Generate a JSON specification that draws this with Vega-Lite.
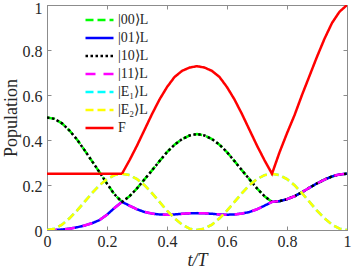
{
  "$schema": "https://vega.github.io/schema/vega-lite/v6.json",
  "width": 300,
  "height": 225,
  "autosize": {"type": "none"},
  "padding": {"left": 47, "top": 5, "right": 6, "bottom": 42},
  "background": "white",
  "config": {
    "view": {"stroke": "#8c8c8c", "strokeWidth": 1},
    "font": "Liberation Serif",
    "axis": {
      "labelFont": "Liberation Serif",
      "titleFont": "Liberation Serif",
      "labelFontSize": 16,
      "titleFontSize": 18,
      "labelColor": "#262626",
      "titleColor": "#262626",
      "titleFontWeight": "normal",
      "domainColor": "#8c8c8c",
      "tickColor": "#8c8c8c",
      "grid": false
    }
  },
  "data": {
    "values": [
      {"t": 0, "p00": 0.5, "p01": 0, "p10": 0.5, "p11": 0, "e1": 0, "e2": 0, "F": 0.25},
      {"t": 0.025, "p00": 0.494, "p01": 0, "p10": 0.494, "p11": 0, "e1": 0.006, "e2": 0.006, "F": 0.25},
      {"t": 0.05, "p00": 0.474, "p01": 0.002, "p10": 0.474, "p11": 0.002, "e1": 0.024, "e2": 0.024, "F": 0.25},
      {"t": 0.075, "p00": 0.442, "p01": 0.006, "p10": 0.442, "p11": 0.006, "e1": 0.052, "e2": 0.052, "F": 0.25},
      {"t": 0.1, "p00": 0.402, "p01": 0.012, "p10": 0.402, "p11": 0.012, "e1": 0.086, "e2": 0.086, "F": 0.25},
      {"t": 0.125, "p00": 0.355, "p01": 0.02, "p10": 0.355, "p11": 0.02, "e1": 0.125, "e2": 0.125, "F": 0.25},
      {"t": 0.15, "p00": 0.306, "p01": 0.03, "p10": 0.306, "p11": 0.03, "e1": 0.164, "e2": 0.164, "F": 0.25},
      {"t": 0.175, "p00": 0.257, "p01": 0.044, "p10": 0.257, "p11": 0.044, "e1": 0.199, "e2": 0.199, "F": 0.25},
      {"t": 0.2, "p00": 0.206, "p01": 0.068, "p10": 0.206, "p11": 0.068, "e1": 0.226, "e2": 0.226, "F": 0.25},
      {"t": 0.225, "p00": 0.158, "p01": 0.098, "p10": 0.158, "p11": 0.098, "e1": 0.244, "e2": 0.244, "F": 0.25},
      {"t": 0.25, "p00": 0.125, "p01": 0.125, "p10": 0.125, "p11": 0.125, "e1": 0.25, "e2": 0.25, "F": 0.25},
      {"t": 0.275, "p00": 0.15, "p01": 0.108, "p10": 0.15, "p11": 0.108, "e1": 0.244, "e2": 0.244, "F": 0.31},
      {"t": 0.3, "p00": 0.185, "p01": 0.092, "p10": 0.185, "p11": 0.092, "e1": 0.226, "e2": 0.226, "F": 0.375},
      {"t": 0.325, "p00": 0.225, "p01": 0.08, "p10": 0.225, "p11": 0.08, "e1": 0.199, "e2": 0.199, "F": 0.445},
      {"t": 0.35, "p00": 0.265, "p01": 0.073, "p10": 0.265, "p11": 0.073, "e1": 0.164, "e2": 0.164, "F": 0.515},
      {"t": 0.375, "p00": 0.306, "p01": 0.069, "p10": 0.306, "p11": 0.069, "e1": 0.125, "e2": 0.125, "F": 0.58},
      {"t": 0.4, "p00": 0.346, "p01": 0.068, "p10": 0.346, "p11": 0.068, "e1": 0.086, "e2": 0.086, "F": 0.635},
      {"t": 0.425, "p00": 0.379, "p01": 0.069, "p10": 0.379, "p11": 0.069, "e1": 0.052, "e2": 0.052, "F": 0.68},
      {"t": 0.45, "p00": 0.404, "p01": 0.072, "p10": 0.404, "p11": 0.072, "e1": 0.024, "e2": 0.024, "F": 0.707},
      {"t": 0.475, "p00": 0.42, "p01": 0.074, "p10": 0.42, "p11": 0.074, "e1": 0.006, "e2": 0.006, "F": 0.722},
      {"t": 0.5, "p00": 0.427, "p01": 0.075, "p10": 0.427, "p11": 0.075, "e1": 0, "e2": 0, "F": 0.728},
      {"t": 0.525, "p00": 0.42, "p01": 0.074, "p10": 0.42, "p11": 0.074, "e1": 0.006, "e2": 0.006, "F": 0.722},
      {"t": 0.55, "p00": 0.404, "p01": 0.072, "p10": 0.404, "p11": 0.072, "e1": 0.024, "e2": 0.024, "F": 0.707},
      {"t": 0.575, "p00": 0.379, "p01": 0.069, "p10": 0.379, "p11": 0.069, "e1": 0.052, "e2": 0.052, "F": 0.68},
      {"t": 0.6, "p00": 0.346, "p01": 0.068, "p10": 0.346, "p11": 0.068, "e1": 0.086, "e2": 0.086, "F": 0.635},
      {"t": 0.625, "p00": 0.306, "p01": 0.069, "p10": 0.306, "p11": 0.069, "e1": 0.125, "e2": 0.125, "F": 0.58},
      {"t": 0.65, "p00": 0.265, "p01": 0.073, "p10": 0.265, "p11": 0.073, "e1": 0.164, "e2": 0.164, "F": 0.515},
      {"t": 0.675, "p00": 0.225, "p01": 0.08, "p10": 0.225, "p11": 0.08, "e1": 0.199, "e2": 0.199, "F": 0.445},
      {"t": 0.7, "p00": 0.185, "p01": 0.092, "p10": 0.185, "p11": 0.092, "e1": 0.226, "e2": 0.226, "F": 0.375},
      {"t": 0.725, "p00": 0.15, "p01": 0.108, "p10": 0.15, "p11": 0.108, "e1": 0.244, "e2": 0.244, "F": 0.31},
      {"t": 0.75, "p00": 0.125, "p01": 0.125, "p10": 0.125, "p11": 0.125, "e1": 0.25, "e2": 0.25, "F": 0.25},
      {"t": 0.775, "p00": 0.128, "p01": 0.128, "p10": 0.128, "p11": 0.128, "e1": 0.244, "e2": 0.244, "F": 0.345},
      {"t": 0.8, "p00": 0.137, "p01": 0.137, "p10": 0.137, "p11": 0.137, "e1": 0.226, "e2": 0.226, "F": 0.43},
      {"t": 0.825, "p00": 0.15, "p01": 0.15, "p10": 0.15, "p11": 0.15, "e1": 0.199, "e2": 0.199, "F": 0.51},
      {"t": 0.85, "p00": 0.168, "p01": 0.168, "p10": 0.168, "p11": 0.168, "e1": 0.164, "e2": 0.164, "F": 0.6},
      {"t": 0.875, "p00": 0.188, "p01": 0.188, "p10": 0.188, "p11": 0.188, "e1": 0.125, "e2": 0.125, "F": 0.685},
      {"t": 0.9, "p00": 0.207, "p01": 0.207, "p10": 0.207, "p11": 0.207, "e1": 0.086, "e2": 0.086, "F": 0.77},
      {"t": 0.925, "p00": 0.224, "p01": 0.224, "p10": 0.224, "p11": 0.224, "e1": 0.052, "e2": 0.052, "F": 0.85},
      {"t": 0.95, "p00": 0.238, "p01": 0.238, "p10": 0.238, "p11": 0.238, "e1": 0.024, "e2": 0.024, "F": 0.92},
      {"t": 0.975, "p00": 0.247, "p01": 0.247, "p10": 0.247, "p11": 0.247, "e1": 0.006, "e2": 0.006, "F": 0.97},
      {"t": 1, "p00": 0.25, "p01": 0.25, "p10": 0.25, "p11": 0.25, "e1": 0, "e2": 0, "F": 1}
    ]
  },
  "transform": [
    {"fold": ["p00", "p01", "p10", "p11", "e1", "e2", "F"], "as": ["series", "value"]}
  ],
  "layer": [
    {
      "mark": {"type": "line", "strokeWidth": 2.5, "strokeCap": "butt", "clip": true},
      "encoding": {
        "x": {
          "field": "t", "type": "quantitative",
          "scale": {"domain": [0, 1], "nice": false, "zero": false},
          "axis": {
            "orient": "bottom", "values": [0, 0.2, 0.4, 0.6, 0.8, 1], "format": "~g",
            "title": "t/T", "titleFontStyle": "italic", "tickSize": -4, "labelPadding": 7,
            "titlePadding": 2, "labelFlush": false
          }
        },
        "y": {
          "field": "value", "type": "quantitative",
          "scale": {"domain": [0, 1], "nice": false},
          "axis": {
            "orient": "left", "values": [0, 0.2, 0.4, 0.6, 0.8, 1], "format": "~g",
            "title": "Population", "tickSize": -4, "labelPadding": 9, "titlePadding": 2,
            "labelOffset": {"condition": {"test": "datum.value == 1", "value": 3}, "value": 1}
          }
        },
        "color": {
          "field": "series", "type": "nominal",
          "scale": {
            "domain": ["p00", "p01", "p10", "p11", "e1", "e2", "F"],
            "range": ["#00ff00", "#0000ff", "#000000", "#ff00ff", "#00ffff", "#ffff00", "#ff0000"]
          },
          "legend": {
            "title": null, "orient": "none", "legendX": 37, "legendY": 7, "padding": 0,
            "symbolType": "stroke", "symbolSize": 784, "symbolStrokeWidth": 2.5,
            "clipHeight": 16, "rowPadding": 2, "labelOffset": 3,
            "labelFont": "Liberation Serif", "labelFontSize": 14, "labelColor": "#262626",
            "labelExpr": "datum.value == 'p00' ? '|00⟩L' : datum.value == 'p01' ? '|01⟩L' : datum.value == 'p10' ? '|10⟩L' : datum.value == 'p11' ? '|11⟩L' : datum.value == 'e1' ? '|E₁⟩L' : datum.value == 'e2' ? '|E₂⟩L' : 'F'"
          }
        },
        "strokeDash": {
          "field": "series", "type": "nominal",
          "scale": {
            "domain": ["p00", "p01", "p10", "p11", "e1", "e2", "F"],
            "range": [[8, 4], [1, 0], [2.5, 2.5], [10, 8], [8, 4], [8, 4], [1, 0]]
          },
          "legend": null
        }
      }
    },
    {
      "mark": {"type": "line", "opacity": 0},
      "encoding": {
        "x": {
          "field": "t", "type": "quantitative",
          "axis": {"orient": "top", "values": [0, 0.2, 0.4, 0.6, 0.8, 1], "labels": false, "title": null, "tickSize": -4}
        },
        "y": {
          "field": "value", "type": "quantitative",
          "axis": {"orient": "right", "values": [0, 0.2, 0.4, 0.6, 0.8, 1], "labels": false, "title": null, "tickSize": -4}
        },
        "detail": {"field": "series"}
      }
    }
  ],
  "resolve": {"axis": {"x": "independent", "y": "independent"}}
}
